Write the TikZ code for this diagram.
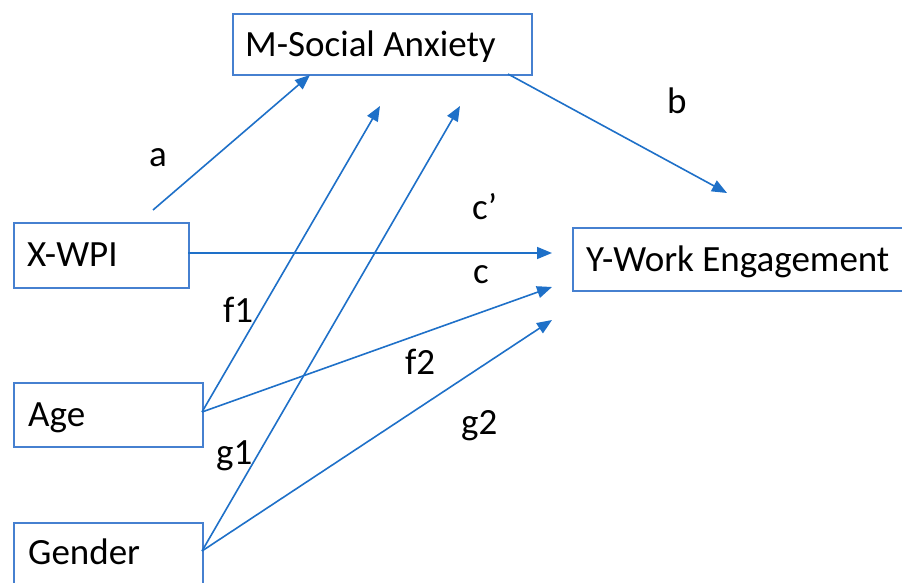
\documentclass[tikz,border=0pt]{standalone}
\usepackage{fontspec}
\setmainfont{Carlito}
\usetikzlibrary{arrows.meta}
\definecolor{boxblue}{RGB}{70,128,208}
\definecolor{arrblue}{RGB}{30,112,200}
\begin{document}
\begin{tikzpicture}[x=1pt,y=-1pt,
  box/.style={draw=boxblue,line width=2pt,rectangle,inner sep=0pt,anchor=north west},
  txt/.style={inner sep=0pt,anchor=base west,font=\fontsize{37}{44}\selectfont},
  lab/.style={inner sep=0pt,anchor=base west,font=\fontsize{37}{44}\selectfont},
  arr/.style={draw=arrblue,line width=1.6pt,-{Triangle[length=15pt,width=12pt]}}]
\clip (0,0) rectangle (902,583);
\fill[white] (0,0) rectangle (902,583);
% boxes
\node[box,minimum width=299pt,minimum height=61pt] (m) at (232,13) {};
\node[box,minimum width=175pt,minimum height=65pt] (x) at (13,222) {};
\node[box,minimum width=340pt,minimum height=63pt] (y) at (572,227) {};
\node[box,minimum width=189pt,minimum height=64pt] (age) at (13,382) {};
\node[box,minimum width=189pt,minimum height=80pt] (gen) at (13,522) {};
% box texts
\node[txt] (mt) at (245,57) {M-Social Anxiety};
\node[txt] (xt) at (27,266) {X-WPI};
\node[txt] (yt) at (586,271) {Y-Work Engagement};
\node[txt] (aget) at (28,426) {Age};
\node[txt] (gent) at (28,564) {Gender};
% connector end points
\coordinate (xa) at (153,210);
\coordinate (ma) at (310,75);
\coordinate (mb) at (508,74);
\coordinate (yb) at (727,193);
\coordinate (xc) at (188,253);
\coordinate (yc) at (552,253);
\coordinate (ages) at (202,412);
\coordinate (gens) at (202,551);
\coordinate (mf) at (380,106);
\coordinate (mg) at (460,106);
\coordinate (yf) at (552,287);
\coordinate (yg) at (552,320);
% connectors
\draw[arr] (xa) -- (ma);
\draw[arr] (mb) -- (yb);
\draw[arr] (xc) -- (yc);
\draw[arr] (ages) -- (mf);
\draw[arr] (gens) -- (mg);
\draw[arr] (ages) -- (yf);
\draw[arr] (gens) -- (yg);
% labels
\node[lab] (la) at (149,166) {a};
\node[lab] (lb) at (667,114) {b};
\node[lab] (lcp) at (472,219) {c’};
\node[lab] (lc) at (473,283) {c};
\node[lab] (lf1) at (223,322) {f1};
\node[lab] (lf2) at (405,374) {f2};
\node[lab] (lg1) at (216,464) {g1};
\node[lab] (lg2) at (461,434) {g2};
\end{tikzpicture}
\end{document}
